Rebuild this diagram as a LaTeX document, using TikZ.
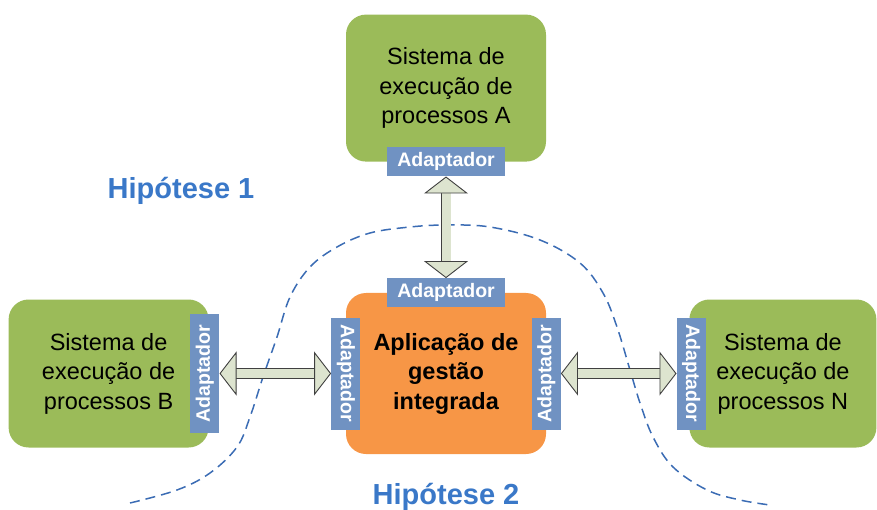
\documentclass[tikz,border=0pt]{standalone}
\usepackage{fontspec}
\setmainfont{Liberation Sans}
\usetikzlibrary{arrows.meta,positioning}

\definecolor{sysgreen}{HTML}{9BBB59}
\definecolor{apporange}{HTML}{F79646}
\definecolor{adblue}{HTML}{7092C2}
\definecolor{arrowfill}{HTML}{DDE4CF}
\definecolor{arrowline}{HTML}{404040}
\definecolor{hipblue}{HTML}{3A78C8}
\definecolor{curveblue}{HTML}{3B6CB4}

\begin{document}
\begin{tikzpicture}[x=1pt,y=-1pt,>={Triangle[length=17pt,width=44pt,fill=arrowfill]},
			sistema/.style={rectangle,rounded corners=20pt,fill=sysgreen,minimum width=200pt,minimum height=147pt,inner sep=0pt,align=center,font=\fontsize{23.5}{29.5}\selectfont},
			aplicacao/.style={sistema,fill=apporange,minimum height=161pt,font=\fontsize{23.5}{29.5}\selectfont\bfseries},
			adaptador/.style={rectangle,fill=adblue,text=white,minimum width=118pt,minimum height=29pt,inner sep=0pt,font=\fontsize{19.5}{22}\selectfont\bfseries},
			blockarrow/.style={<->,draw=arrowline,line width=0.9pt,double=arrowfill,double distance=9pt},
			hipotese/.style={text=hipblue,font=\fontsize{29}{32}\selectfont\bfseries}]

			\useasboundingbox (0,0) rectangle (877,510);

			% dashed border between the two hypotheses
			\draw[curveblue,line width=1.5pt,dash pattern=on 10pt off 6pt] plot[smooth,tension=0.6] coordinates {(130,503) (177,490) (210,473) (237,447) (250,417) (263,377) (277,337) (290,297) (310,267) (337,247) (370,233) (410,227) (447,225) (490,227) (540,240) (580,263) (603,293) (617,327) (630,370) (640,403) (653,437) (673,467) (707,490) (740,500) (770,505)};

			\node[aplicacao] (app) at (446,373.5) {Aplicação de\\gestão\\integrada};
			\node[sistema] (A) [above=131pt of app] {Sistema de\\execução de\\processos A};
			\node[sistema,minimum height=148pt] (B) [left=137pt of app] {Sistema de\\execução de\\processos B};
			\node[sistema,minimum width=187pt,minimum height=148pt] (N) [right=143pt of app] {Sistema de\\execução de\\processos N};

			\node[adaptador] (adA) at (A.south) {Adaptador};
			\node[adaptador] (adT) at (app.north) {Adaptador};
			\node[adaptador,minimum width=112pt,rotate=-90] (adL) at (app.west) {Adaptador};
			\node[adaptador,minimum width=112pt,rotate=90] (adR) at (app.east) {Adaptador};
			\node[adaptador,minimum width=119pt,rotate=90] (adB) at ([xshift=-4pt]B.east) {Adaptador};
			\node[adaptador,minimum width=112pt,rotate=-90] (adN) at ([xshift=2pt]N.west) {Adaptador};

			\draw[blockarrow] (adA) -- (adT);
			\draw[blockarrow] (adB) -- (adL);
			\draw[blockarrow] (adR) -- (adN);

			\node[hipotese] (h1) at (181,191) {Hipótese 1};
			\node[hipotese] (h2) at (446,497) {Hipótese 2};

		\end{tikzpicture}
\end{document}
